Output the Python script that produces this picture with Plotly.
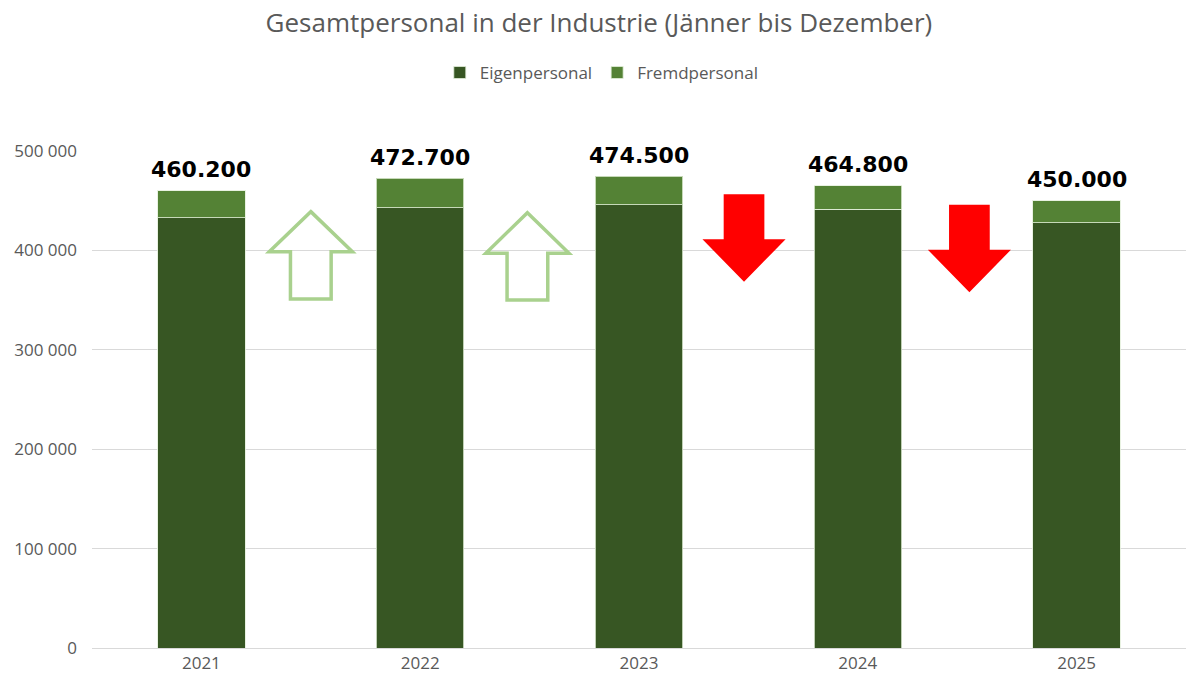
import plotly.graph_objects as go

years = ["2021", "2022", "2023", "2024", "2025"]
eigen = [433000, 443000, 446000, 441300, 428000]
fremd = [27200, 29700, 28500, 23500, 22000]
totals = [460200, 472700, 474500, 464800, 450000]
total_labels = ["460.200", "472.700", "474.500", "464.800", "450.000"]
y_ticks = [0, 100000, 200000, 300000, 400000, 500000]
y_tick_text = ["0", "100 000", "200 000", "300 000", "400 000", "500 000"]

# trend arrows between years: (x position in category index, direction, top, neck, tip/bottom)
arrow_pos = [0.5, 1.49, 2.48, 3.51]
arrow_dir = ["up", "up", "down", "down"]
arrow_top = [439000, 438000, 456400, 446000]
arrow_neck = [398700, 397100, 411200, 400700]
arrow_bottom = [351100, 350100, 368500, 357800]

DARK = "#375623"
LIGHT = "#548235"
GRAY = "#595959"
FONT = "Open Sans"

idx = list(range(len(years)))

fig = go.Figure()
fig.add_trace(go.Bar(x=idx, y=eigen, name="Eigenpersonal",
                     marker=dict(color=DARK, line=dict(color="rgba(226,239,218,0.8)", width=1))))
fig.add_trace(go.Bar(x=idx, y=fremd, name="Fremdpersonal",
                     marker=dict(color=LIGHT, line=dict(color="rgba(226,239,218,0.8)", width=1))))

for i, (t, lab) in enumerate(zip(totals, total_labels)):
    fig.add_annotation(x=i, y=t, text="<b>" + lab + "</b>", showarrow=False,
                       yanchor="middle", yshift=21,
                       font=dict(family="DejaVu Sans", size=22, color="#000000"))

head_hw = 0.19
shaft_hw = 0.093
for x, d, top, neck, bot in zip(arrow_pos, arrow_dir, arrow_top, arrow_neck, arrow_bottom):
    if d == "up":
        path = (f"M {x},{top} L {x+head_hw},{neck} L {x+shaft_hw},{neck} L {x+shaft_hw},{bot} "
                f"L {x-shaft_hw},{bot} L {x-shaft_hw},{neck} L {x-head_hw},{neck} Z")
        fig.add_shape(type="path", path=path, xref="x", yref="y",
                      line=dict(color="#A9D18E", width=3.5), fillcolor="rgba(255,255,255,0)")
    else:
        path = (f"M {x-shaft_hw},{top} L {x+shaft_hw},{top} L {x+shaft_hw},{neck} L {x+head_hw},{neck} "
                f"L {x},{bot} L {x-head_hw},{neck} L {x-shaft_hw},{neck} Z")
        fig.add_shape(type="path", path=path, xref="x", yref="y",
                      line=dict(color="#FF0000", width=0), fillcolor="#FF0000")

fig.update_layout(
    barmode="stack",
    bargap=0.6,
    width=1186, height=681,
    margin=dict(l=92, r=0, t=151, b=33),
    plot_bgcolor="white", paper_bgcolor="white",
    font=dict(family=FONT, color=GRAY, size=17),
    title=dict(text="Gesamtpersonal in der Industrie (Jänner bis Dezember)",
               x=0.505, xanchor="center", y=1 - 23 / 681, yanchor="middle", yref="container",
               font=dict(family=FONT, size=26, color=GRAY)),
    legend=dict(orientation="h", x=0.466, xanchor="center", y=1.157, yanchor="middle",
                font=dict(family=FONT, size=17, color=GRAY), traceorder="normal",
                itemwidth=30),
    xaxis=dict(tickvals=idx, ticktext=years, range=[-0.5, len(years) - 0.5],
               showgrid=False, showline=True, linecolor="#D9D9D9", linewidth=1,
               tickfont=dict(size=17, color=GRAY), zeroline=False),
    yaxis=dict(range=[0, 500000], tickvals=y_ticks, ticktext=y_tick_text,
               showgrid=True, gridcolor="#D9D9D9", gridwidth=1, zeroline=False,
               tickfont=dict(size=17, color=GRAY), ticklabelstandoff=14),
)

fig.write_html("out.html", config={"displayModeBar": False},
               post_script="document.body.style.margin='0px';document.body.style.overflow='hidden';")
